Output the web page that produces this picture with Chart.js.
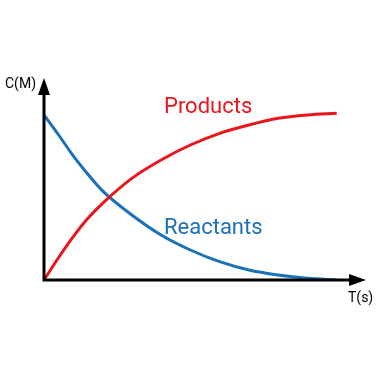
<!DOCTYPE html>
<html>
<head>
<meta charset="utf-8">
<script src="https://cdn.jsdelivr.net/npm/chart.js@4.4.1/dist/chart.umd.min.js"></script>
<style>
  html, body { margin: 0; padding: 0; background: #fff; }
  #wrap { width: 380px; height: 380px; }
</style>
</head>
<body>
<div id="wrap"><canvas id="chart" width="380" height="380"></canvas></div>
<script>
const times = [0, 0.5, 1, 1.5, 2, 3, 4, 5, 6, 7, 8, 9, 10];
const products = [0, 0.135, 0.26, 0.37, 0.46, 0.61, 0.72, 0.81, 0.88, 0.93, 0.97, 0.99, 1.0];
const reactants = [0.99, 0.87, 0.745, 0.635, 0.535, 0.39, 0.27, 0.18, 0.11, 0.06, 0.03, 0.01, 0];
const axisLabels = ['T(s)', 'C(M)'];
const seriesNames = ['Products', 'Reactants'];

const RED = '#e8161c';
const BLUE = '#1b71b9';

const toPoints = (vals) => vals.map((v, i) => ({ x: times[i], y: v }));

const axesPlugin = {
  id: 'axesPlugin',
  afterDatasetsDraw(chart) {
    const ctx = chart.ctx;
    const { x, y } = chart.scales;
    const x0 = x.getPixelForValue(0), y0 = y.getPixelForValue(0);
    const xEnd = x.right, yEnd = y.top - 2;
    ctx.save();
    ctx.strokeStyle = '#000';
    ctx.fillStyle = '#000';
    ctx.lineWidth = 3;
    ctx.beginPath();
    ctx.moveTo(x0, y0); ctx.lineTo(xEnd - 10, y0);
    ctx.moveTo(x0, y0 + 1.5); ctx.lineTo(x0, yEnd + 10);
    ctx.stroke();
    // arrow heads
    ctx.beginPath();
    ctx.moveTo(xEnd, y0); ctx.lineTo(xEnd - 17, y0 - 6); ctx.lineTo(xEnd - 17, y0 + 6); ctx.closePath();
    ctx.fill();
    ctx.beginPath();
    ctx.moveTo(x0, yEnd); ctx.lineTo(x0 - 6, yEnd + 17); ctx.lineTo(x0 + 6, yEnd + 17); ctx.closePath();
    ctx.fill();
    // axis labels
    ctx.font = '14px Roboto';
    ctx.textBaseline = 'middle';
    ctx.textAlign = 'left';
    ctx.fillText(axisLabels[1], 5, 84);
    ctx.fillText(axisLabels[0], 348, 298);
    // series labels
    ctx.font = '22px Roboto';
    ctx.textBaseline = 'alphabetic';
    ctx.fillStyle = RED;
    ctx.fillText(seriesNames[0], 164, 113);
    ctx.fillStyle = BLUE;
    ctx.fillText(seriesNames[1], 164, 234);
    ctx.restore();
  }
};

new Chart(document.getElementById('chart'), {
  type: 'line',
  data: {
    datasets: [
      { label: seriesNames[0], data: toPoints(products), borderColor: RED, borderWidth: 3, pointRadius: 0, cubicInterpolationMode: 'monotone', fill: false },
      { label: seriesNames[1], data: toPoints(reactants), borderColor: BLUE, borderWidth: 3, pointRadius: 0, cubicInterpolationMode: 'monotone', fill: false }
    ]
  },
  options: {
    responsive: false,
    animation: false,
    layout: { padding: { left: 44, right: 14, top: 80, bottom: 100 } },
    plugins: { legend: { display: false }, tooltip: { enabled: false } },
    scales: {
      x: { type: 'linear', min: 0, max: 11, display: false },
      y: { min: 0, max: 1.2, display: false }
    }
  },
  plugins: [axesPlugin]
});
</script>
</body>
</html>
